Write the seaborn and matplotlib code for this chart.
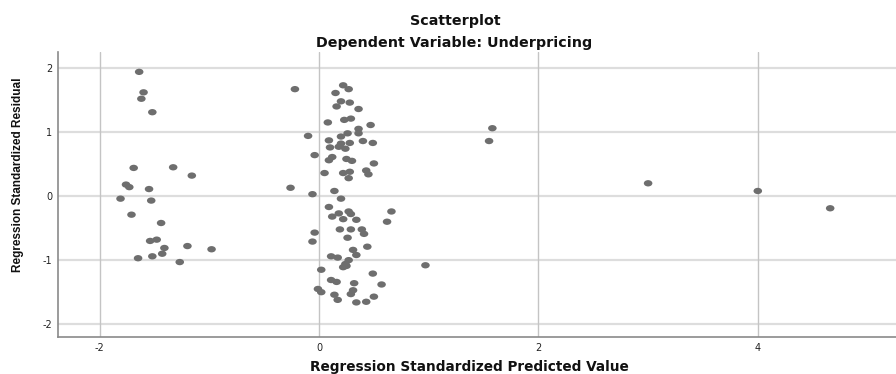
import numpy as np
import pandas as pd
import seaborn as sns
import matplotlib
matplotlib.use("Agg")
import matplotlib.pyplot as plt
from matplotlib.path import Path
from matplotlib.transforms import Affine2D

# ---- data ----
pred = [
    -1.64, -1.60, -1.62, -1.52, -1.69, -1.33, -1.16, -1.76, -1.73, -1.55,
    -1.81, -1.53, -1.71, -1.44, -1.54, -1.48, -1.41, -1.20, -0.98, -1.43,
    -1.52, -1.65, -1.27,
    1.58, 1.55, 3.00, 4.00, 4.66, 0.97,
    -0.22, 0.22, 0.27, 0.15, 0.20, 0.28, 0.16, 0.36, 0.08, 0.23,
    0.29, 0.47, 0.36, 0.36, 0.26, -0.10, 0.20, 0.09, 0.28, 0.40,
    0.49, 0.20, 0.10, 0.18, 0.24, -0.04, 0.12, 0.09, 0.25, 0.30,
    0.50, 0.05, 0.22, 0.28, 0.43, 0.45, 0.27,
    -0.26, -0.06, 0.14, 0.20, 0.09, 0.18, 0.12, 0.27, 0.29, 0.22,
    0.34, 0.66, 0.62, -0.04, -0.06, 0.19, 0.29, 0.39, 0.41, 0.26,
    0.44, 0.31, 0.34, 0.11, 0.17, 0.27, 0.24, 0.22, 0.25, 0.02,
    0.49, 0.11, 0.16, 0.32, 0.57, -0.01, 0.02, 0.31, 0.29, 0.14,
    0.17, 0.50, 0.34, 0.43,
]
resid = [
    1.94, 1.62, 1.52, 1.31, 0.44, 0.45, 0.32, 0.18, 0.14, 0.11,
    -0.04, -0.07, -0.29, -0.42, -0.70, -0.68, -0.81, -0.78, -0.83, -0.90,
    -0.94, -0.97, -1.03,
    1.06, 0.86, 0.20, 0.08, -0.19, -1.08,
    1.67, 1.73, 1.67, 1.61, 1.48, 1.46, 1.40, 1.36, 1.15, 1.19,
    1.21, 1.11, 1.05, 0.98, 0.98, 0.94, 0.93, 0.87, 0.83, 0.86,
    0.83, 0.82, 0.76, 0.77, 0.74, 0.64, 0.61, 0.56, 0.58, 0.55,
    0.51, 0.36, 0.36, 0.38, 0.40, 0.34, 0.28,
    0.13, 0.03, 0.08, -0.04, -0.17, -0.27, -0.32, -0.24, -0.28, -0.36,
    -0.37, -0.24, -0.40, -0.57, -0.71, -0.52, -0.52, -0.52, -0.59, -0.65,
    -0.79, -0.84, -0.92, -0.94, -0.96, -1.00, -1.06, -1.11, -1.09, -1.15,
    -1.21, -1.31, -1.34, -1.36, -1.38, -1.45, -1.50, -1.47, -1.53, -1.54,
    -1.62, -1.57, -1.66, -1.65,
]
x_ticks = [-2, 0, 2, 4]
y_ticks = [-2, -1, 0, 1, 2]

title_text = "Scatterplot"
subtitle_text = "Dependent Variable: Underpricing"
x_label = "Regression Standardized Predicted Value"
y_label = "Regression Standardized Residual"

df = pd.DataFrame({"pred": pred, "resid": resid})

sns.set_style("white")
plt.rcParams["font.family"] = ["DejaVu Sans"]

fig = plt.figure(figsize=(8.96, 3.74), dpi=100)
ax = fig.add_axes([58 / 896, 37 / 374, 1 - 58 / 896, (337 - 52) / 374])

ellipse = Path.unit_circle().transformed(Affine2D().scale(1.35, 1.0))
sns.scatterplot(data=df, x="pred", y="resid", ax=ax, marker=ellipse,
                s=38, color="#6e6e6e", edgecolor="none", linewidth=0,
                zorder=3)

ax.set_xlim(-2.38, 5.26)
ax.set_ylim(-2.20, 2.25)
ax.set_xticks(x_ticks)
ax.set_yticks(y_ticks)
ax.set_xticklabels([str(t) for t in x_ticks])
ax.set_yticklabels([str(t) for t in y_ticks])

for t in y_ticks:
    ax.axhline(t, color="#dddddd", lw=1.6, zorder=1)
for t in x_ticks:
    ax.axvline(t, color="#c4c4c4", lw=1.0, zorder=1)

ax.tick_params(axis="both", length=0, labelsize=7, colors="#222222")
ax.tick_params(axis="x", pad=4.5)
ax.tick_params(axis="y", pad=4)

for side in ["top", "right"]:
    ax.spines[side].set_visible(False)
for side in ["left", "bottom"]:
    ax.spines[side].set_color("#8a8a8a")
    ax.spines[side].set_linewidth(1.2)

ax.set_xlabel("")
ax.set_ylabel("")

fig.text(469 / 896, 1 - 371 / 374, x_label, fontsize=9.8, fontweight="bold",
         ha="center", va="baseline", color="#111111")
fig.text(18 / 896, 1 - 175 / 374, y_label, rotation=90, fontsize=8.5,
         fontweight="bold", ha="center", va="center", color="#111111",
         family=["Liberation Sans Narrow", "Liberation Sans", "DejaVu Sans"])

fig.text(455.5 / 896, 1 - 25 / 374, title_text, fontsize=10.3, fontweight="bold",
         ha="center", va="baseline", color="#111111")
fig.text(454 / 896, 1 - 47 / 374, subtitle_text, fontsize=10.3, fontweight="bold",
         ha="center", va="baseline", color="#111111")

fig.savefig("out.png", dpi=100)
